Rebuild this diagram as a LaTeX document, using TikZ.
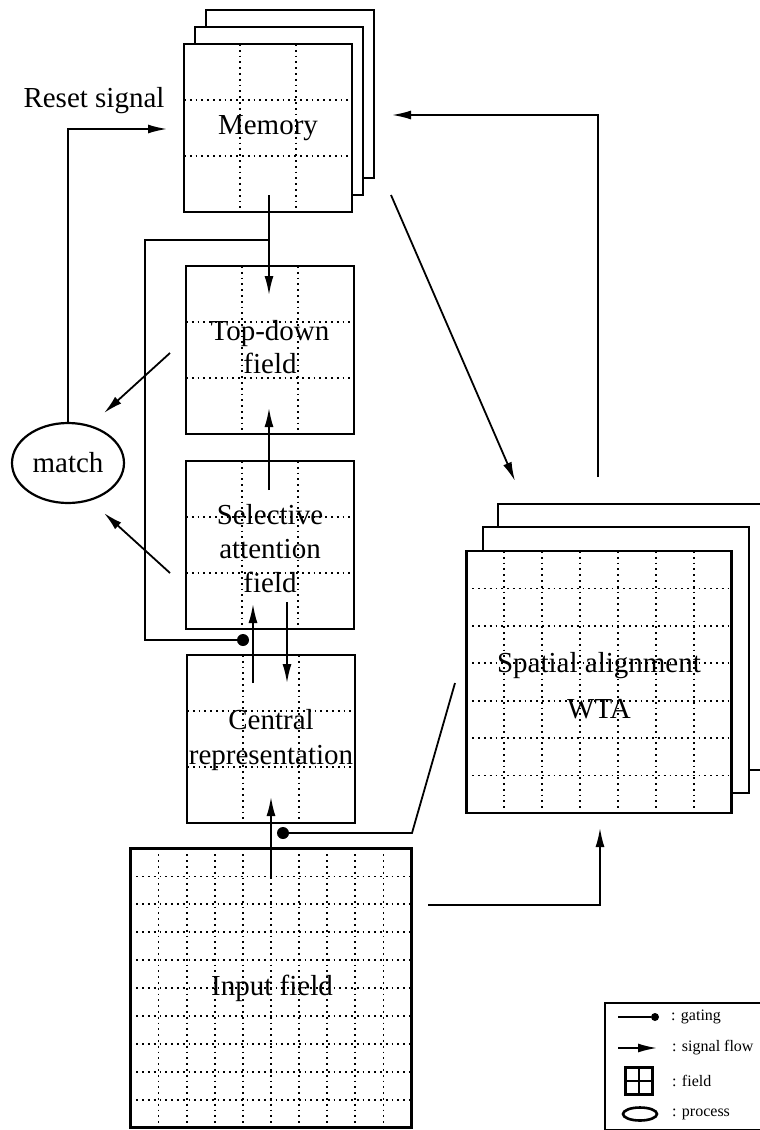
\documentclass[tikz,border=0pt]{standalone}
\usepackage{fontspec}
\setmainfont{Liberation Serif}
\usetikzlibrary{arrows.meta,calc,shapes.geometric}

\tikzset{
  field/.style={draw,line width=2.2pt,fill=white,inner sep=0pt,outer sep=0pt,
    minimum width=168pt,minimum height=168pt,align=center,
    font=\fontsize{29}{33}\selectfont},
  backfield/.style={draw,line width=2.2pt,fill=white,inner sep=0pt,outer sep=0pt},
  griddot/.style={line width=1.8pt,dash pattern=on 1.8pt off 4pt},
  flow/.style={line width=1.8pt,-{Latex[length=19pt,width=9pt]}},
  wire/.style={line width=1.8pt},
  gatedot/.style={circle,fill=black,inner sep=0pt,minimum size=12pt},
  legtext/.style={anchor=west,inner sep=0pt,font=\fontsize{16}{18}\selectfont}
}

% dotted n x n grid inside a field node
\newcommand{\fieldgrid}[2]{
  \pgfmathtruncatemacro\gridlast{#2-1}
  \foreach \k in {1,...,\gridlast}{
    \draw[griddot] ($(#1.north west)!\k/#2!(#1.north east)$) -- ($(#1.south west)!\k/#2!(#1.south east)$);
    \draw[griddot] ($(#1.north west)!\k/#2!(#1.south west)$) -- ($(#1.north east)!\k/#2!(#1.south east)$);
  }
}

\begin{document}
\begin{tikzpicture}[x=1pt,y=-1pt]
  \useasboundingbox (0,0) rectangle (760,1130);
  \clip (0,0) rectangle (760,1130);

  % memory stack
  \node[backfield,minimum size=168pt] (mem3) at (290,94) {};
  \node[backfield,minimum size=168pt] (mem2) at (279,111) {};
  \node[field] (mem) at (268,128) {};
  \fieldgrid{mem}{3}
  \node at (mem) [font=\fontsize{29}{33}\selectfont] {Memory};

  % central column
  \node[field] (td) at (270,350) {};
  \fieldgrid{td}{3}
  \node at (270,347) [align=center,font=\fontsize{29}{33}\selectfont] {Top-down\\field};

  \node[field] (sel) at (270,545) {};
  \fieldgrid{sel}{3}
  \node at (270,549) [align=center,font=\fontsize{29}{34}\selectfont] {Selective\\attention\\field};

  \node[field] (cen) at (271,739) {};
  \fieldgrid{cen}{3}
  \node at (271,740) [align=center,font=\fontsize{29}{35}\selectfont] {Central\\representation};

  \node[field,line width=3.8pt,minimum width=281pt,minimum height=279pt] (inp) at (271,988) {};
  \fieldgrid{inp}{10}
  \node at (272,988) [font=\fontsize{29}{33}\selectfont] {Input field};

  % WTA stack
  \node[backfield,minimum size=266pt] (wta3) at (631,637) {};
  \node[backfield,minimum size=266pt] (wta2) at (616,660) {};
  \node[field,line width=2.5pt,minimum width=265pt,minimum height=262pt] (wta) at (599,682) {};
  \fieldgrid{wta}{7}
  \node at (599,686) [align=center,font=\fontsize{29}{46}\selectfont] {Spatial alignment\\WTA};

  % match process
  \node[ellipse,draw,line width=2.2pt,minimum width=112pt,minimum height=80pt,
    inner sep=0pt,font=\fontsize{29}{33}\selectfont] (match) at (68,463) {match};
  \node (resetlbl) at (94,101) [font=\fontsize{29}{33}\selectfont] {Reset signal};

  % connection points
  \coordinate (memout) at (269,195);
  \coordinate (memsplit) at (269,240);
  \coordinate (tdin) at (269,295);
  \coordinate (resetin) at (167,129);
  \node[gatedot] (gate1) at (243,640) {};
  \node[gatedot] (gate2) at (283,833) {};

  \draw[flow] (match.north) |- (resetin);
  \draw[flow] (memout) -- (tdin);
  \draw[wire] (memsplit) -- (145,240) -- (145,640) -- (gate1);
  \draw[flow] (269,490) -- (269,408);
  \draw[flow] (170,353) -- (104,413);
  \draw[flow] (170,573) -- (104,513);
  \draw[flow] (253,683) -- (253,604);
  \draw[flow] (287,602) -- (287,683);
  \draw[flow] (271,879) -- (271,797);
  \draw[wire] (gate2) -- (412,833) -- (455,683);
  \draw[flow] (391,195) -- (515,481);
  \draw[flow] (598,477) -- (598,115) -- (392,115);
  \draw[flow] (428,905) -- (600,905) -- (600,828);

  % legend
  \draw[line width=2.2pt] (605,1003) rectangle (770,1130);
  \node[circle,fill=black,inner sep=0pt,minimum size=8pt] (leggate) at (655,1017) {};
  \draw[wire] (618,1017) -- (leggate);
  \node[legtext] (lgt1) at (671,1017) {: gating};
  \draw[flow] (618,1048) -- (657,1048);
  \node[legtext] (lgt2) at (672,1048) {: signal flow};
  \node[draw,line width=2.6pt,minimum size=27pt,inner sep=0pt] (legfield) at (639,1081) {};
  \draw[line width=2.2pt] (legfield.north) -- (legfield.south) (legfield.west) -- (legfield.east);
  \node[legtext] (lgt3) at (672,1081) {: field};
  \node[ellipse,draw,line width=2.6pt,minimum width=34pt,minimum height=13pt,inner sep=0pt] (legproc) at (640,1114) {};
  \node[legtext] (lgt4) at (672,1114) {: process};
\end{tikzpicture}
\end{document}
